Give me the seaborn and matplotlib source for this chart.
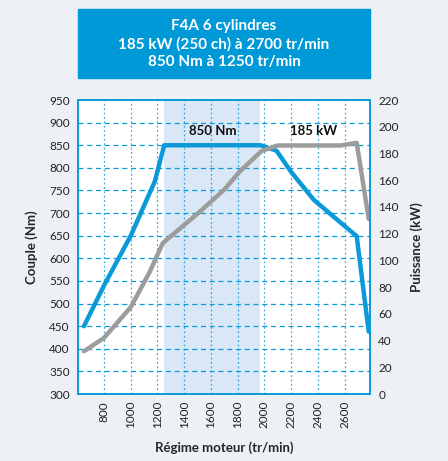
import matplotlib
matplotlib.use("Agg")
import matplotlib.pyplot as plt
import seaborn as sns
import pandas as pd
from matplotlib.patches import Rectangle

# torque curve (left axis, Nm)
torque_rpm = [650, 800, 1000, 1180, 1250, 1970, 2090, 2200, 2370, 2590, 2690, 2780]
torque_nm = [450, 540, 650, 770, 850, 850, 838, 791, 729, 674, 649, 438]

# power curve (right axis, kW)
power_rpm = [650, 800, 1000, 1140, 1240, 1500, 1700, 1820, 1980, 2100, 2570, 2690, 2780]
power_kw = [32, 42, 65, 91, 113, 135, 153, 167, 182, 186, 186, 188, 131]

x_ticks = [800, 1000, 1200, 1400, 1600, 1800, 2000, 2200, 2400, 2600]
torque_ticks = list(range(300, 951, 50))
power_ticks = list(range(0, 221, 20))

title_lines = ["F4A 6 cylindres", "185 kW (250 ch) à 2700 tr/min", "850 Nm à 1250 tr/min"]

BLUE = "#0a9ad8"
GREY = "#9c9c9c"
BG = "#edf1f5"

sns.set_theme(style="white")
plt.rcParams['font.family'] = ['Lato', 'DejaVu Sans']

torque_df = pd.DataFrame({"rpm": torque_rpm, "couple": torque_nm})
power_df = pd.DataFrame({"rpm": power_rpm, "puissance": power_kw})

fig = plt.figure(figsize=(4.48, 4.61), dpi=100, facecolor=BG)
ax = fig.add_axes([0.174, 0.1453, 0.652, 0.6377])
ax.set_facecolor("white")

# max torque band
ax.axvspan(1245, 1970, color="#dae7f7", zorder=0, lw=0)

# grid: dashed horizontal, dotted vertical
for y in torque_ticks[1:-1]:
    ax.axhline(y, color=BLUE, lw=0.9, ls=(0, (4, 3)), zorder=0.5)
for x in x_ticks:
    ax.axvline(x, color=BLUE, lw=0.9, ls=(0, (1.5, 2)), alpha=0.8, zorder=0.5)

sns.lineplot(data=torque_df, x="rpm", y="couple", ax=ax, color=BLUE, lw=3.2, sort=False, zorder=3)

ax2 = ax.twinx()
sns.lineplot(data=power_df, x="rpm", y="puissance", ax=ax2, color=GREY, lw=3.2, sort=False, zorder=2)

ax.set_xlim(605, 2790)
ax.set_ylim(300, 950)
ax2.set_ylim(0, 220)

ax.set_xticks(x_ticks)
ax.set_xticklabels([str(v) for v in x_ticks], rotation=90)
ax.set_yticks(torque_ticks)
ax2.set_yticks(power_ticks)

for a in (ax, ax2):
    a.tick_params(length=0, labelsize=8.5, colors="#222222", pad=6)
    for s in a.spines.values():
        s.set_color(BLUE)
        s.set_linewidth(1.2)
ax.tick_params(axis="x", pad=5)

ax.set_xlabel("Régime moteur (tr/min)", fontsize=9.5, fontweight="bold", labelpad=9)
ax.set_ylabel("Couple (Nm)", fontsize=9.5, fontweight="bold", labelpad=8)
ax2.set_ylabel("Puissance (kW)", fontsize=9.5, fontweight="bold", labelpad=8)

ax.text(1614, 881, "850 Nm", ha="center", va="center", fontsize=9.5, fontweight="bold", color="#111111")
ax.text(2370, 881, "185 kW", ha="center", va="center", fontsize=9.5, fontweight="bold", color="#111111")

# title box
fig.patches.append(Rectangle((78 / 448, 1 - 78 / 461), 292 / 448, 69 / 461,
                             transform=fig.transFigure, color="#0099d8", zorder=0))
for i, line in enumerate(title_lines):
    fig.text(0.5, 1 - (26 + 18 * i) / 461, line, ha="center", va="center",
             fontsize=11, fontweight="bold", color="white")

fig.savefig("out.png", dpi=100, facecolor=BG)
